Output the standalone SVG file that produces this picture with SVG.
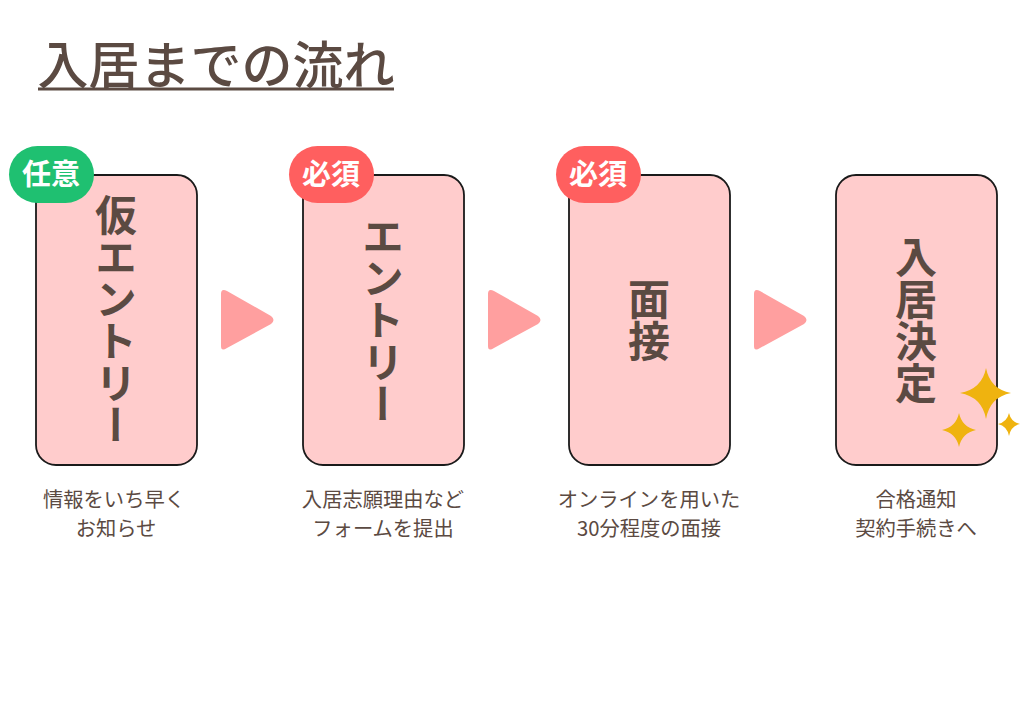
<svg xmlns="http://www.w3.org/2000/svg" width="1024" height="726" viewBox="0 0 1024 726">
<style>
text{font-family:"Noto Sans CJK JP","Noto Sans",sans-serif;fill:#5b4a42;text-anchor:middle}
.card{fill:#ffcccc;stroke:#1a1a1a;stroke-width:1.8}
.big{font-size:42px;font-weight:700;writing-mode:vertical-rl;text-orientation:upright}
.cap{font-size:20.300px;font-weight:400}
.badge{font-size:29px;font-weight:700;fill:#fff}
.arrow{fill:#ff9f9f}
.star{fill:#efb30f}
</style>
<rect width="1024" height="726" fill="#fff"/>
<g id="title"><text x="216" y="84" font-size="51" font-weight="500">入居までの流れ</text><rect x="38" y="87.500" width="356" height="3" fill="#5b4a42"/></g>
<g id="connectors">
<path class="arrow" d="M221 294Q221 288 227 291L271 316Q276 320 271 324L227 348Q221 352 221 346Z"/>
<path class="arrow" d="M488 294Q488 288 494 291L538 316Q543 320 538 324L494 348Q488 352 488 346Z"/>
<path class="arrow" d="M754 294Q754 288 760 291L804 316Q809 320 804 324L760 348Q754 352 754 346Z"/>
</g>
<g id="node1"><rect class="card" x="36" y="175" width="161" height="290" rx="20"/><text class="big" x="116" y="320">仮エントリー</text><rect x="9" y="146" width="85" height="57" rx="28.500" fill="#1fc071"/><text class="badge" x="51" y="185">任意</text></g>
<g id="node2"><rect class="card" x="303" y="175" width="161" height="290" rx="20"/><text class="big" x="383" y="320">エントリー</text><rect x="289" y="146" width="85" height="57" rx="28.500" fill="#ff5f5f"/><text class="badge" x="331" y="185">必須</text></g>
<g id="node3"><rect class="card" x="569" y="175" width="161" height="290" rx="20"/><text class="big" x="649" y="320">面接</text><rect x="556" y="146" width="85" height="57" rx="28.500" fill="#ff5f5f"/><text class="badge" x="598" y="185">必須</text></g>
<g id="node4"><rect class="card" x="836" y="175" width="161" height="290" rx="20"/><text class="big" x="916" y="320">入居決定</text>
<path class="star" d="M986 368Q990 389 1011 393Q990 397 986 419Q982 397 960 393Q982 389 986 368Z"/>
<path class="star" d="M959 413Q962 427 976 430Q962 433 959 447Q956 433 942 430Q956 427 959 413Z"/>
<path class="star" d="M1009 413Q1011 422 1020 424Q1011 426 1009 436Q1007 426 998 424Q1007 422 1009 413Z"/></g>
<g id="captions">
<text class="cap" x="114" y="507">情報をいち早く</text><text class="cap" x="116" y="536">お知らせ</text>
<text class="cap" x="383" y="507">入居志願理由など</text><text class="cap" x="383" y="536">フォームを提出</text>
<text class="cap" x="649" y="507">オンラインを用いた</text><text class="cap" x="649" y="536">30分程度の面接</text>
<text class="cap" x="916" y="507">合格通知</text><text class="cap" x="916" y="536">契約手続きへ</text>
</g>
</svg>
